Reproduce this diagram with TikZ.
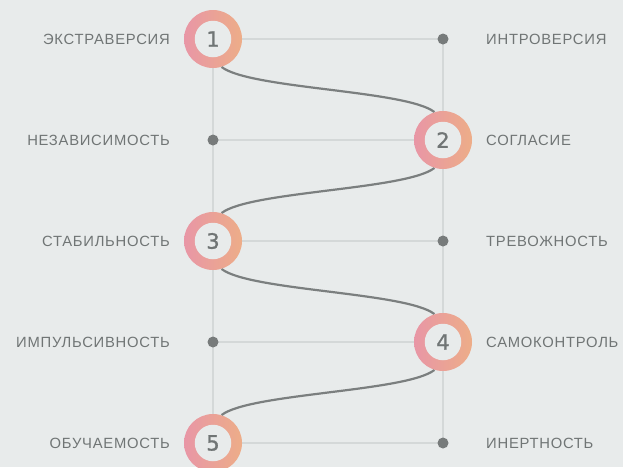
\documentclass[tikz,border=0pt]{standalone}
\usepackage{fontspec}
\setmainfont{Liberation Sans}
\newfontfamily\labfont[LetterSpace=5]{Liberation Sans}
\newfontfamily\numfont[FakeBold=1.2]{DejaVu Sans}
\definecolor{bgc}{HTML}{E8EBEB}
\definecolor{gridc}{HTML}{D4D8D8}
\definecolor{curvec}{HTML}{7B7F7F}
\definecolor{dotc}{HTML}{777B7B}
\definecolor{textc}{HTML}{707575}
\definecolor{pinkc}{HTML}{E896A6}
\definecolor{orangec}{HTML}{EDAD88}
\pgfdeclarelayer{backlayer}
\pgfdeclarelayer{linelayer}
\pgfsetlayers{backlayer,linelayer,main}
\tikzset{
  ring/.style={circle, minimum size=58pt, inner sep=0pt, left color=pinkc, right color=orangec, draw=none},
  hole/.style={circle, minimum size=36.5pt, inner sep=0pt, fill=bgc, text=textc, font=\numfont\fontsize{21}{21}\selectfont},
  dotnode/.style={circle, minimum size=11pt, inner sep=0pt, fill=dotc},
  gridline/.style={draw=gridc, line width=1.6pt},
  vline/.style={draw=gridc, line width=2pt},
  curve/.style={draw=curvec, line width=2.2pt},
  llab/.style={anchor=base east, text=textc, inner sep=0pt, font=\labfont\fontsize{14.8}{16}\selectfont},
  rlab/.style={anchor=base west, text=textc, inner sep=0pt, font=\labfont\fontsize{14.8}{16}\selectfont},
}
\begin{document}
\begin{tikzpicture}[x=1pt,y=-1pt]
\begin{pgfonlayer}{backlayer}
\fill[bgc] (0,0) rectangle (623,467);
\end{pgfonlayer}
\useasboundingbox (0,0) rectangle (623,467);
% circles
\node[ring] (c1) at (213,39) {};
\node[hole] (h1) at (c1) {1};
\node[ring] (c2) at (443,140) {};
\node[hole] (h2) at (c2) {2};
\node[ring] (c3) at (213,241) {};
\node[hole] (h3) at (c3) {3};
\node[ring] (c4) at (443,342) {};
\node[hole] (h4) at (c4) {4};
\node[ring] (c5) at (213,443) {};
\node[hole] (h5) at (c5) {5};
% dots
\node[dotnode] (d1) at (443,39) {};
\node[dotnode] (d2) at (213,140) {};
\node[dotnode] (d3) at (443,241) {};
\node[dotnode] (d4) at (213,342) {};
\node[dotnode] (d5) at (443,443) {};
\coordinate (lbot) at (213,467);
% labels
\node[llab] (l1) at (170,44.3) {ЭКСТРАВЕРСИЯ};
\node[llab] (l2) at (170,145.3) {НЕЗАВИСИМОСТЬ};
\node[llab] (l3) at (170,246.3) {СТАБИЛЬНОСТЬ};
\node[llab] (l4) at (170,347.3) {ИМПУЛЬСИВНОСТЬ};
\node[llab] (l5) at (170,448.3) {ОБУЧАЕМОСТЬ};
\node[rlab] (r1) at (486,44.3) {ИНТРОВЕРСИЯ};
\node[rlab] (r2) at (486,145.3) {СОГЛАСИЕ};
\node[rlab] (r3) at (486,246.3) {ТРЕВОЖНОСТЬ};
\node[rlab] (r4) at (486,347.3) {САМОКОНТРОЛЬ};
\node[rlab] (r5) at (486,448.3) {ИНЕРТНОСТЬ};
\begin{pgfonlayer}{linelayer}
\draw[vline] (c1.center) -- (lbot);
\draw[vline] (d1.center) -- (d5.center);
\draw[gridline] (c1.center) -- (d1.center);
\draw[gridline] (d2.center) -- (c2.center);
\draw[gridline] (c3.center) -- (d3.center);
\draw[gridline] (d4.center) -- (c4.center);
\draw[gridline] (c5.center) -- (d5.center);
\draw[curve] (c1.-73) .. controls +(28,22) and +(-28,-22) .. (c2.107);
\draw[curve] (c2.-107) .. controls +(-28,22) and +(28,-22) .. (c3.73);
\draw[curve] (c3.-73) .. controls +(28,22) and +(-28,-22) .. (c4.107);
\draw[curve] (c4.-107) .. controls +(-28,22) and +(28,-22) .. (c5.73);
\end{pgfonlayer}
\end{tikzpicture}
\end{document}
